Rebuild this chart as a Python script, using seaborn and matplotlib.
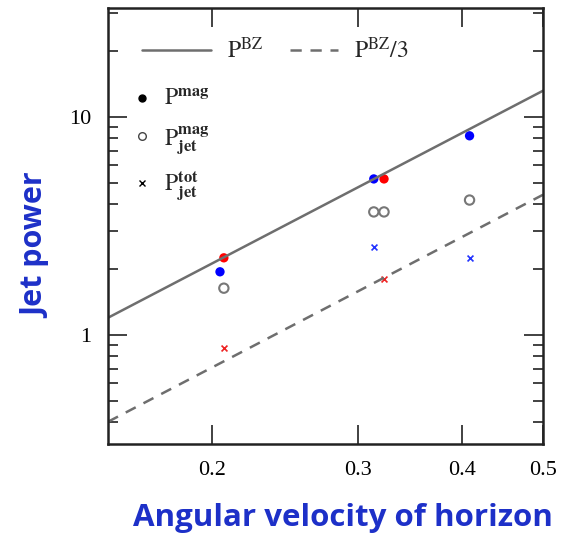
import pandas as pd
import matplotlib
matplotlib.use("Agg")
import matplotlib.pyplot as plt
from matplotlib.lines import Line2D
from matplotlib.ticker import FixedLocator, NullLocator, LogLocator, NullFormatter, FixedFormatter
import seaborn as sns

# =====================================================
# DATA
# =====================================================

# P_BZ reference lines, end points at the axis edges
omega_line = [0.15, 0.5]
p_bz = [1.2, 13.2]
p_bz_third = [0.40, 4.4]

# blue runs
omega_blue = [0.2045, 0.313, 0.408]
pmag_blue = [1.95, 5.2, 8.2]
ptot_blue = [2.53, 2.26]
omega_blue_tot = [0.313, 0.408]

# red runs
omega_red = [0.2067, 0.322]
pmag_red = [2.26, 5.2]
ptot_red = [0.87, 1.81]

# P_jet^mag (open grey circles)
omega_jetmag = [0.2067, 0.313, 0.322, 0.408]
pjetmag = [1.64, 3.67, 3.67, 4.16]

x_ticks = [0.2, 0.3, 0.4, 0.5]
x_labels = ["0.2", "0.3", "0.4", "0.5"]

LABEL_BLUE = "#1d30c8"
LINE_GREY = "#6e6e6e"
DASH = (0, (4.5, 3.5))

# =====================================================
# PLOT
# =====================================================

sns.set_style("ticks")
plt.rcParams["mathtext.fontset"] = "stix"
plt.rcParams["font.family"] = ["Liberation Serif", "DejaVu Serif"]

fig = plt.figure(figsize=(5.64, 5.34), dpi=100)
ax = fig.add_axes([0.1915, 0.1685, 0.7713, 0.8165])

lines = pd.DataFrame({"omega": omega_line, "bz": p_bz, "bz3": p_bz_third})
sns.lineplot(data=lines, x="omega", y="bz", ax=ax, color=LINE_GREY, lw=1.8)
sns.lineplot(data=lines, x="omega", y="bz3", ax=ax, color=LINE_GREY, lw=1.8,
             linestyle=DASH)

sns.scatterplot(x=omega_jetmag, y=pjetmag, ax=ax, marker="o", s=45,
                facecolor="none", edgecolor="#777777", linewidth=1.5)
sns.scatterplot(x=omega_blue, y=pmag_blue, ax=ax, color="#0000ff", s=45,
                edgecolor="none")
sns.scatterplot(x=omega_red, y=pmag_red, ax=ax, color="#ff0000", s=45,
                edgecolor="none")
sns.scatterplot(x=omega_blue_tot, y=ptot_blue, ax=ax, marker="x", s=18,
                color="#2233ff", linewidth=1.2)
sns.scatterplot(x=omega_red, y=ptot_red, ax=ax, marker="x", s=18,
                color="#ee2222", linewidth=1.2)

ax.set_xscale("log")
ax.set_yscale("log")
ax.set_xlim(0.15, 0.5)
ax.set_ylim(10 ** -0.5, 10 ** 1.5)

ax.xaxis.set_major_locator(FixedLocator(x_ticks))
ax.xaxis.set_major_formatter(FixedFormatter(x_labels))
ax.xaxis.set_minor_locator(NullLocator())
ax.yaxis.set_major_locator(FixedLocator([1, 10]))
ax.yaxis.set_major_formatter(FixedFormatter(["1", "10"]))
ax.yaxis.set_minor_locator(LogLocator(base=10, subs=range(2, 10)))
ax.yaxis.set_minor_formatter(NullFormatter())

ax.tick_params(which="both", direction="in", top=True, right=True,
               colors="#333333", labelcolor="black", labelsize=16, width=1.3)
ax.tick_params(which="major", length=14, pad=12)
ax.tick_params(which="minor", length=7)
for sp in ax.spines.values():
    sp.set_linewidth(1.8)
    sp.set_color("#222222")

ax.set_xlabel("Angular velocity of horizon", fontsize=22.5, fontweight="bold",
              color=LABEL_BLUE, family=["Open Sans", "DejaVu Sans"])
ax.xaxis.set_label_coords(0.54, -0.136)
ax.set_ylabel("Jet power", fontsize=22, fontweight="bold",
              color=LABEL_BLUE, family=["Open Sans", "DejaVu Sans"])
ax.yaxis.set_label_coords(-0.13, 0.456)

# legends: P_BZ lines
leg1 = ax.legend([Line2D([], [], color=LINE_GREY, lw=1.8)],
                 [r"$\mathrm{P}^{\mathrm{BZ}}$"],
                 loc="upper left", bbox_to_anchor=(0.052, 0.96),
                 frameon=False, fontsize=17, handlelength=2.9, borderpad=0,
                 handletextpad=0.7)
ax.add_artist(leg1)
leg2 = ax.legend([Line2D([], [], color=LINE_GREY, lw=1.8, linestyle=DASH)],
                 [r"$\mathrm{P}^{\mathrm{BZ}}/3$"],
                 loc="upper left", bbox_to_anchor=(0.392, 0.96),
                 frameon=False, fontsize=17, handlelength=2.0, borderpad=0,
                 handletextpad=0.7)
ax.add_artist(leg2)

# legend: point types
pt_handles = [
    Line2D([], [], marker="o", color="black", linestyle="none", markersize=5),
    Line2D([], [], marker="o", markerfacecolor="none", markeredgecolor="#444444",
           linestyle="none", markersize=5.5, markeredgewidth=1.0),
    Line2D([], [], marker="x", color="black", linestyle="none", markersize=4,
           markeredgewidth=1.0),
]
pt_labels = [
    r"$\mathrm{P}^{\mathbf{mag}}$",
    r"$\mathrm{P}^{\mathbf{mag}}_{\mathbf{jet}}$",
    r"$\mathrm{P}^{\mathbf{tot}}_{\mathbf{jet}}$",
]
ax.legend(pt_handles, pt_labels, loc="upper left", bbox_to_anchor=(0.03, 0.84),
          frameon=False, fontsize=17, handlelength=0.8, handletextpad=0.5,
          labelspacing=0.55, borderpad=0)

fig.savefig("out.png", dpi=100)
